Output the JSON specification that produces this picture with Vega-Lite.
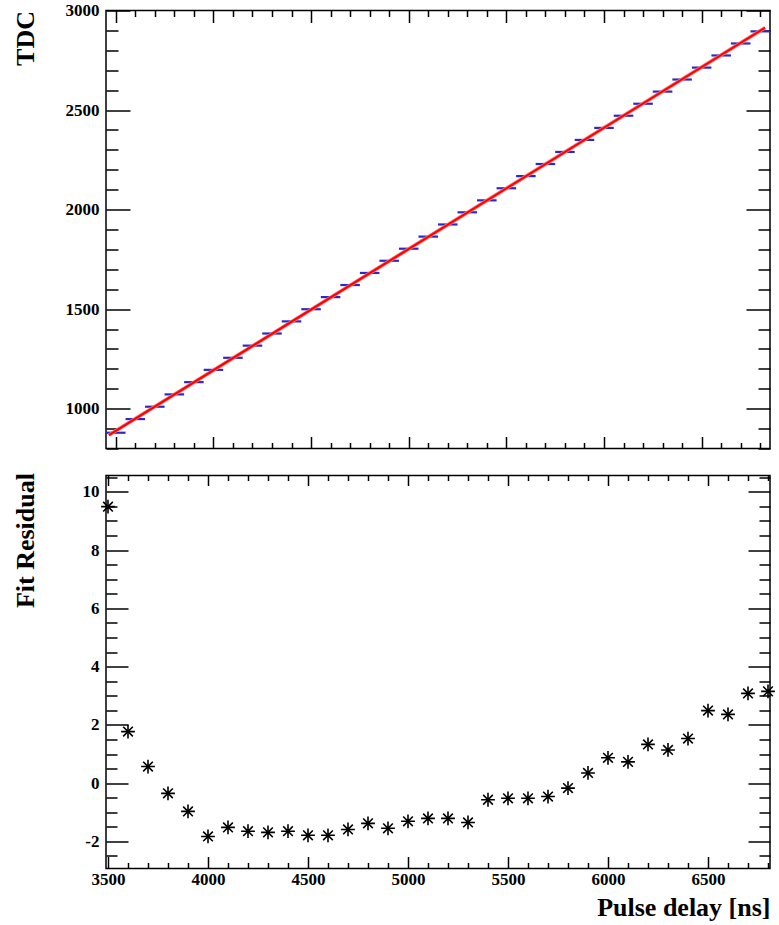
{
  "$schema": "https://vega.github.io/schema/vega-lite/v6.json",
  "autosize": {"type": "pad"},
  "padding": {"left": 11, "top": 0.5, "right": 6, "bottom": 6},
  "background": "white",
  "bounds": "flush",
  "spacing": 27,
  "config": {
    "view": {"stroke": "black", "strokeWidth": 1.5},
    "axis": {
      "grid": false, "domain": false,
      "labelFont": "Liberation Serif", "labelFontWeight": "bold", "labelFontSize": 17, "labelColor": "black",
      "titleFont": "Liberation Serif", "titleFontWeight": "bold", "titleFontSize": 26, "titleColor": "black",
      "tickColor": "black", "tickWidth": 1.5,
      "labelFlush": false, "labelOverlap": false, "labelBound": false
    }
  },
  "datasets": {
    "bins": [
      {"x": 3500, "lo": 3450, "hi": 3550, "tdc": 879.2},
      {"x": 3600, "lo": 3550, "hi": 3650, "tdc": 947.8},
      {"x": 3700, "lo": 3650, "hi": 3750, "tdc": 1009.9},
      {"x": 3800, "lo": 3750, "hi": 3850, "tdc": 1071.8},
      {"x": 3900, "lo": 3850, "hi": 3950, "tdc": 1133.3},
      {"x": 4000, "lo": 3950, "hi": 4050, "tdc": 1195.0},
      {"x": 4100, "lo": 4050, "hi": 4150, "tdc": 1255.6},
      {"x": 4200, "lo": 4150, "hi": 4250, "tdc": 1316.7},
      {"x": 4300, "lo": 4250, "hi": 4350, "tdc": 1377.6},
      {"x": 4400, "lo": 4350, "hi": 4450, "tdc": 1438.5},
      {"x": 4500, "lo": 4450, "hi": 4550, "tdc": 1499.5},
      {"x": 4600, "lo": 4550, "hi": 4650, "tdc": 1560.4},
      {"x": 4700, "lo": 4650, "hi": 4750, "tdc": 1621.1},
      {"x": 4800, "lo": 4750, "hi": 4850, "tdc": 1681.8},
      {"x": 4900, "lo": 4850, "hi": 4950, "tdc": 1742.9},
      {"x": 5000, "lo": 4950, "hi": 5050, "tdc": 1803.5},
      {"x": 5100, "lo": 5050, "hi": 5150, "tdc": 1864.3},
      {"x": 5200, "lo": 5150, "hi": 5250, "tdc": 1925.2},
      {"x": 5300, "lo": 5250, "hi": 5350, "tdc": 1986.3},
      {"x": 5400, "lo": 5350, "hi": 5450, "tdc": 2046.4},
      {"x": 5500, "lo": 5450, "hi": 5550, "tdc": 2107.2},
      {"x": 5600, "lo": 5550, "hi": 5650, "tdc": 2168.1},
      {"x": 5700, "lo": 5650, "hi": 5750, "tdc": 2229.0},
      {"x": 5800, "lo": 5750, "hi": 5850, "tdc": 2289.6},
      {"x": 5900, "lo": 5850, "hi": 5950, "tdc": 2349.9},
      {"x": 6000, "lo": 5950, "hi": 6050, "tdc": 2410.3},
      {"x": 6100, "lo": 6050, "hi": 6150, "tdc": 2471.4},
      {"x": 6200, "lo": 6150, "hi": 6250, "tdc": 2531.7},
      {"x": 6300, "lo": 6250, "hi": 6350, "tdc": 2592.7},
      {"x": 6400, "lo": 6350, "hi": 6450, "tdc": 2653.3},
      {"x": 6500, "lo": 6450, "hi": 6550, "tdc": 2713.2},
      {"x": 6600, "lo": 6550, "hi": 6650, "tdc": 2774.2},
      {"x": 6700, "lo": 6650, "hi": 6750, "tdc": 2834.4},
      {"x": 6800, "lo": 6750, "hi": 6850, "tdc": 2895.2}
    ],
    "fit": [
      {"x": 3465, "tdc": 867.4},
      {"x": 6825, "tdc": 2913.6}
    ],
    "resid": [
      {"delay": 3500, "residual": 9.49},
      {"delay": 3600, "residual": 1.77},
      {"delay": 3700, "residual": 0.57},
      {"delay": 3800, "residual": -0.35},
      {"delay": 3900, "residual": -0.97},
      {"delay": 4000, "residual": -1.83},
      {"delay": 4100, "residual": -1.52},
      {"delay": 4200, "residual": -1.65},
      {"delay": 4300, "residual": -1.69},
      {"delay": 4400, "residual": -1.65},
      {"delay": 4500, "residual": -1.79},
      {"delay": 4600, "residual": -1.79},
      {"delay": 4700, "residual": -1.59},
      {"delay": 4800, "residual": -1.38},
      {"delay": 4900, "residual": -1.55},
      {"delay": 5000, "residual": -1.31},
      {"delay": 5100, "residual": -1.21},
      {"delay": 5200, "residual": -1.21},
      {"delay": 5300, "residual": -1.35},
      {"delay": 5400, "residual": -0.57},
      {"delay": 5500, "residual": -0.52},
      {"delay": 5600, "residual": -0.52},
      {"delay": 5700, "residual": -0.46},
      {"delay": 5800, "residual": -0.17},
      {"delay": 5900, "residual": 0.35},
      {"delay": 6000, "residual": 0.87},
      {"delay": 6100, "residual": 0.73},
      {"delay": 6200, "residual": 1.33},
      {"delay": 6300, "residual": 1.14},
      {"delay": 6400, "residual": 1.53},
      {"delay": 6500, "residual": 2.49},
      {"delay": 6600, "residual": 2.36},
      {"delay": 6700, "residual": 3.08},
      {"delay": 6800, "residual": 3.15}
    ]
  },
  "vconcat": [
    {
      "width": 664,
      "height": 438,
      "resolve": {"axis": {"x": "independent", "y": "independent"}},
      "layer": [
        {
          "data": {"name": "bins"},
          "mark": {"type": "rule", "color": "#2a2acc", "strokeWidth": 2.2},
          "encoding": {
            "x": {"field": "lo", "type": "quantitative", "scale": {"domain": [3450, 6850], "nice": false, "zero": false},
              "axis": {"orient": "bottom", "labels": false, "title": null,
                "values": [3500,3600,3700,3800,3900,4000,4100,4200,4300,4400,4500,4600,4700,4800,4900,5000,5100,5200,5300,5400,5500,5600,5700,5800,5900,6000,6100,6200,6300,6400,6500,6600,6700,6800],
                "tickSize": {"condition": {"test": "datum.value % 500 === 0", "value": -12}, "value": -6}}},
            "x2": {"field": "hi"},
            "y": {"field": "tdc", "type": "quantitative", "scale": {"domain": [800, 3000], "nice": false, "zero": false},
              "axis": {"orient": "left", "ticks": false, "labelPadding": 7, "values": [1000, 1500, 2000, 2500, 3000],
                "labelExpr": "'' + datum.value",
                "title": "TDC", "titleAngle": 270, "titleAlign": "right", "titleBaseline": "middle", "titleAnchor": "end", "titleX": -81, "titleY": 0}}
          }
        },
        {
          "data": {"name": "fit"},
          "mark": {"type": "line", "color": "#ff7070", "strokeWidth": 3.6},
          "encoding": {
            "x": {"field": "x", "type": "quantitative", "scale": {"domain": [3450, 6850], "nice": false, "zero": false},
              "axis": {"orient": "top", "labels": false, "title": null,
                "values": [3500,3600,3700,3800,3900,4000,4100,4200,4300,4400,4500,4600,4700,4800,4900,5000,5100,5200,5300,5400,5500,5600,5700,5800,5900,6000,6100,6200,6300,6400,6500,6600,6700,6800],
                "tickSize": {"condition": {"test": "datum.value % 500 === 0", "value": -12}, "value": -6}}},
            "y": {"field": "tdc", "type": "quantitative", "scale": {"domain": [800, 3000], "nice": false, "zero": false},
              "axis": {"orient": "left", "labels": false, "title": null,
                "values": [800,900,1000,1100,1200,1300,1400,1500,1600,1700,1800,1900,2000,2100,2200,2300,2400,2500,2600,2700,2800,2900,3000],
                "tickSize": {"condition": {"test": "datum.value % 500 === 0", "value": -24}, "value": -12}}}
          }
        },
        {
          "data": {"name": "fit"},
          "mark": {"type": "line", "color": "#ff0000", "strokeWidth": 2},
          "encoding": {
            "x": {"field": "x", "type": "quantitative", "scale": {"domain": [3450, 6850], "nice": false, "zero": false}, "axis": null},
            "y": {"field": "tdc", "type": "quantitative", "scale": {"domain": [800, 3000], "nice": false, "zero": false},
              "axis": {"orient": "right", "labels": false, "title": null,
                "values": [800,900,1000,1100,1200,1300,1400,1500,1600,1700,1800,1900,2000,2100,2200,2300,2400,2500,2600,2700,2800,2900,3000],
                "tickSize": {"condition": {"test": "datum.value % 500 === 0", "value": -24}, "value": -12}}}
          }
        }
      ]
    },
    {
      "width": 664,
      "height": 393,
      "data": {"name": "resid"},
      "resolve": {"axis": {"x": "independent", "y": "independent"}},
      "layer": [
        {
          "mark": {"type": "point", "shape": "M-1,0L1,0M0,-1L0,1", "filled": false, "stroke": "black", "strokeWidth": 1.6, "size": 190, "opacity": 1},
          "encoding": {
            "x": {"field": "delay", "type": "quantitative", "scale": {"domain": [3490, 6810], "nice": false, "zero": false},
              "axis": {"orient": "bottom", "ticks": false, "labelPadding": 3, "values": [3500, 4000, 4500, 5000, 5500, 6000, 6500],
                "labelExpr": "'' + datum.value",
                "title": "Pulse delay [ns]", "titleAnchor": "end", "titleAlign": "right", "titleBaseline": "alphabetic", "titleX": 664, "titleY": 47}},
            "y": {"field": "residual", "type": "quantitative", "scale": {"domain": [-2.93, 10.56], "nice": false, "zero": false},
              "axis": {"orient": "left", "ticks": false, "labelPadding": 7, "values": [-2, 0, 2, 4, 6, 8, 10],
                "labelExpr": "'' + datum.value",
                "title": "Fit Residual", "titleAngle": 270, "titleAlign": "right", "titleBaseline": "middle", "titleAnchor": "end", "titleX": -81, "titleY": -3}}
          }
        },
        {
          "mark": {"type": "point", "shape": "M-0.7,-0.7L0.7,0.7M-0.7,0.7L0.7,-0.7", "filled": false, "stroke": "black", "strokeWidth": 1.6, "size": 190, "opacity": 1},
          "encoding": {
            "x": {"field": "delay", "type": "quantitative", "scale": {"domain": [3490, 6810], "nice": false, "zero": false},
              "axis": {"orient": "bottom", "labels": false, "title": null,
                "values": [3500,3600,3700,3800,3900,4000,4100,4200,4300,4400,4500,4600,4700,4800,4900,5000,5100,5200,5300,5400,5500,5600,5700,5800,5900,6000,6100,6200,6300,6400,6500,6600,6700,6800],
                "tickSize": {"condition": {"test": "datum.value % 500 === 0", "value": -12}, "value": -6}}},
            "y": {"field": "residual", "type": "quantitative", "scale": {"domain": [-2.93, 10.56], "nice": false, "zero": false},
              "axis": {"orient": "left", "labels": false, "title": null,
                "values": [-2.5,-2,-1.5,-1,-0.5,0,0.5,1,1.5,2,2.5,3,3.5,4,4.5,5,5.5,6,6.5,7,7.5,8,8.5,9,9.5,10,10.5],
                "tickSize": {"condition": {"test": "datum.value % 2 === 0", "value": -22}, "value": -11}}}
          }
        },
        {
          "mark": {"type": "point", "shape": "circle", "filled": true, "color": "black", "size": 16, "opacity": 1},
          "encoding": {
            "x": {"field": "delay", "type": "quantitative", "scale": {"domain": [3490, 6810], "nice": false, "zero": false},
              "axis": {"orient": "top", "labels": false, "title": null,
                "values": [3500,3600,3700,3800,3900,4000,4100,4200,4300,4400,4500,4600,4700,4800,4900,5000,5100,5200,5300,5400,5500,5600,5700,5800,5900,6000,6100,6200,6300,6400,6500,6600,6700,6800],
                "tickSize": {"condition": {"test": "datum.value % 500 === 0", "value": -10}, "value": -5}}},
            "y": {"field": "residual", "type": "quantitative", "scale": {"domain": [-2.93, 10.56], "nice": false, "zero": false},
              "axis": {"orient": "right", "labels": false, "title": null,
                "values": [-2.5,-2,-1.5,-1,-0.5,0,0.5,1,1.5,2,2.5,3,3.5,4,4.5,5,5.5,6,6.5,7,7.5,8,8.5,9,9.5,10,10.5],
                "tickSize": {"condition": {"test": "datum.value % 2 === 0", "value": -22}, "value": -11}}}
          }
        }
      ]
    }
  ]
}
